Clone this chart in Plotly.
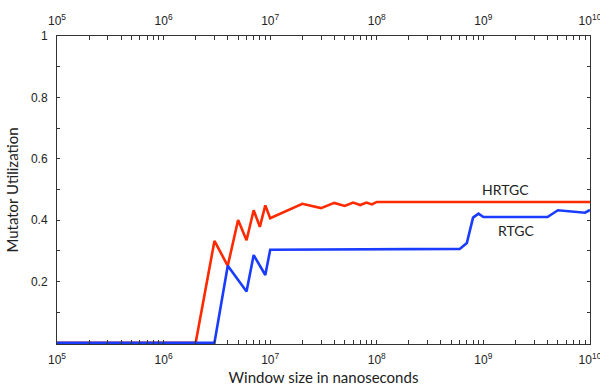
import plotly.graph_objects as go

# Data
hrtgc_x = [1e5, 2e6, 3e6, 4e6, 5e6, 6e6, 7e6, 8e6, 9e6, 1e7, 2e7, 3e7, 4e7, 5e7,
           6e7, 7e7, 8e7, 9e7, 1e8, 1e9, 1e10]
hrtgc_y = [0, 0, 0.332, 0.251, 0.400, 0.334, 0.432, 0.378, 0.448, 0.406, 0.453,
           0.439, 0.456, 0.446, 0.457, 0.449, 0.457, 0.451, 0.459, 0.459, 0.459]

rtgc_x = [1e5, 3e6, 4e6, 5e6, 6e6, 7e6, 9e6, 1e7, 1e8, 6e8, 7e8, 8e8, 9e8, 1e9,
          4e9, 5e9, 9e9, 1e10]
rtgc_y = [0, 0, 0.251, 0.205, 0.167, 0.286, 0.221, 0.303, 0.304, 0.306, 0.325,
          0.408, 0.421, 0.410, 0.410, 0.432, 0.424, 0.433]

decades = [5, 6, 7, 8, 9, 10]
y_ticks = [0.1, 0.2, 0.3, 0.4, 0.5, 0.6, 0.7, 0.8, 0.9, 1.0]
y_labels = ["", "0.2", "", "0.4", "", "0.6", "", "0.8", "", "1"]

x_tickvals = []
x_ticktext = []
for d in decades:
    for m in range(1, 10):
        if d == 10 and m > 1:
            break
        x_tickvals.append(m * 10 ** d)
        x_ticktext.append(f"10<sup>{d}</sup>" if m == 1 else "")

RED = "#ff2a00"
BLUE = "#1a3cff"

fig = go.Figure()
fig.add_trace(go.Scatter(x=hrtgc_x, y=hrtgc_y, mode="lines",
                         line=dict(color=RED, width=2.6), name="HRTGC"))
fig.add_trace(go.Scatter(x=rtgc_x, y=rtgc_y, mode="lines",
                         line=dict(color=BLUE, width=2.6), name="RTGC"))
# invisible helpers so the top and right frame axes are drawn
fig.add_trace(go.Scatter(x=[1e5, 1e10], y=[None, None], xaxis="x2", yaxis="y2",
                         mode="lines", showlegend=False, hoverinfo="skip"))

tickfont = dict(family="Liberation Sans, Arial, sans-serif", size=12, color="#222")
titlefont = dict(family="Lato, sans-serif", size=15, color="#222")
axis_common = dict(
    type="log", range=[5, 10.0004], tickvals=x_tickvals, ticktext=x_ticktext,
    ticks="inside", ticklen=4, tickcolor="#333", tickwidth=1,
    showgrid=False, zeroline=False, showline=True, linecolor="#333",
    linewidth=1, tickfont=tickfont, ticklabelstandoff=5,
    ticklabeloverflow="allow", automargin=False,
)
yaxis_common = dict(
    range=[-0.004, 1], tickvals=y_ticks,
    ticks="inside", ticklen=3, tickcolor="#333",
    showgrid=False, zeroline=False, showline=True, linecolor="#333",
    linewidth=1, tickfont=tickfont, automargin=False,
)

fig.update_layout(
    width=600, height=386,
    margin=dict(l=57, r=10, t=36, b=42),
    paper_bgcolor="white", plot_bgcolor="white",
    showlegend=False,
    xaxis=dict(**axis_common,
               title=dict(text="Window size in nanoseconds", font=titlefont,
                          standoff=11)),
    xaxis2=dict(**axis_common, overlaying="x", side="top", anchor="y2"),
    yaxis=dict(**yaxis_common, ticktext=y_labels, ticklabelstandoff=6,
               title=dict(text="Mutator Utilization", font=titlefont,
                          standoff=8)),
    yaxis2=dict(**yaxis_common, overlaying="y", side="right", anchor="x2",
                showticklabels=False),
    annotations=[
        dict(x=9.21, y=0.50, xref="x", yref="y", text="HRTGC", showarrow=False,
             font=dict(family="Lato, sans-serif", size=14, color="#222")),
        dict(x=9.305, y=0.367, xref="x", yref="y", text="RTGC", showarrow=False,
             font=dict(family="Lato, sans-serif", size=14, color="#222")),
    ],
)

fig.write_html("out.html",
               config={"displayModeBar": False},
               post_script="document.body.style.margin='0px';"
                           "document.body.style.overflow='hidden';")
